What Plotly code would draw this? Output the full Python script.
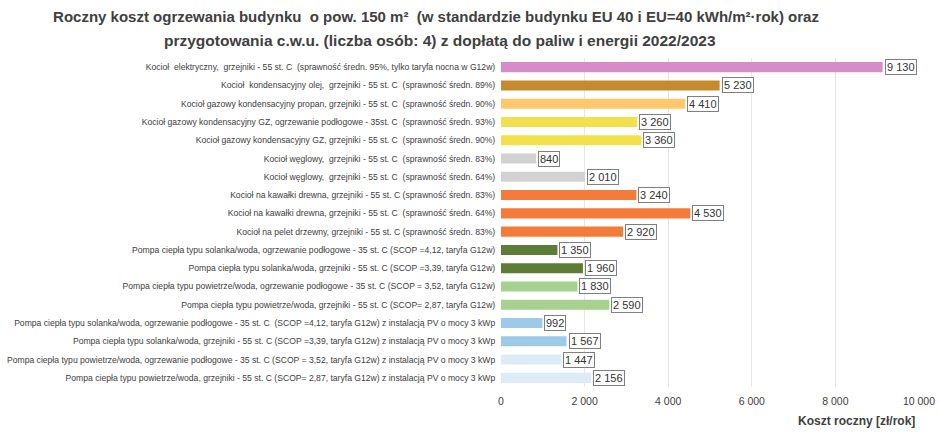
import plotly.graph_objects as go

categories = [
    "Kocioł  elektryczny,  grzejniki - 55 st. C  (sprawność średn. 95%, tylko taryfa nocna w G12w)",
    "Kocioł  kondensacyjny olej,  grzejniki - 55 st. C  (sprawność średn. 89%)",
    "Kocioł gazowy kondensacyjny propan, grzejniki - 55 st. C  (sprawność średn. 90%)",
    "Kocioł gazowy kondensacyjny GZ, ogrzewanie podłogowe - 35st. C  (sprawność średn. 93%)",
    "Kocioł gazowy kondensacyjny GZ, grzejniki - 55 st. C  (sprawność średn. 90%)",
    "Kocioł węglowy,  grzejniki - 55 st. C  (sprawność średn. 83%)",
    "Kocioł węglowy,  grzejniki - 55 st. C  (sprawność średn. 64%)",
    "Kocioł na kawałki drewna, grzejniki - 55 st. C (sprawność średn. 83%)",
    "Kocioł na kawałki drewna, grzejniki - 55 st. C  (sprawność średn. 64%)",
    "Kocioł na pelet drzewny, grzejniki - 55 st. C (sprawność średn. 83%)",
    "Pompa ciepła typu solanka/woda, ogrzewanie podłogowe - 35 st. C (SCOP =4,12, taryfa G12w)",
    "Pompa ciepła typu solanka/woda, grzejniki - 55 st. C (SCOP =3,39, taryfa G12w)",
    "Pompa ciepła typu powietrze/woda, ogrzewanie podłogowe - 35 st. C (SCOP = 3,52, taryfa G12w)",
    "Pompa ciepła typu powietrze/woda, grzejniki - 55 st. C (SCOP= 2,87, taryfa G12w)",
    "Pompa ciepła typu solanka/woda, ogrzewanie podłogowe - 35 st. C  (SCOP =4,12, taryfa G12w) z instalacją PV o mocy 3 kWp",
    "Pompa ciepła typu solanka/woda, grzejniki - 55 st. C (SCOP =3,39, taryfa G12w) z instalacją PV o mocy 3 kWp",
    "Pompa ciepła typu powietrze/woda, ogrzewanie podłogowe - 35 st. C (SCOP = 3,52, taryfa G12w) z instalacją PV o mocy 3 kWp",
    "Pompa ciepła typu powietrze/woda, grzejniki - 55 st. C (SCOP= 2,87, taryfa G12w) z instalacją PV o mocy 3 kWp",
]
values = [9130, 5230, 4410, 3260, 3360, 840, 2010, 3240, 4530, 2920,
          1350, 1960, 1830, 2590, 992, 1567, 1447, 2156]
colors = ["#D68CC9", "#C58A2E", "#FFC86E", "#F2E14C", "#F2E14C", "#D2D2D2", "#D2D2D2",
          "#F47B3A", "#F47B3A", "#F47B3A", "#5C7D36", "#5C7D36", "#A6D18E", "#A6D18E",
          "#9DCAE8", "#9DCAE8", "#DDEBF7", "#DDEBF7"]
tick_vals = [0, 2000, 4000, 6000, 8000, 10000]
tick_text = ["0", "2 000", "4 000", "6 000", "8 000", "10 000"]
title_line1 = "Roczny koszt ogrzewania budynku  o pow. 150 m²  (w standardzie budynku EU 40 i EU=40 kWh/m²·rok) oraz"
title_line2 = "przygotowania c.w.u. (liczba osób: 4) z dopłatą do paliw i energii 2022/2023"
axis_title = "Koszt roczny [zł/rok]"

FONT = "Liberation Sans"
W, H = 940, 432
ML, MR, MT, MB = 501, 21, 58, 45
plot_w = W - ML - MR
plot_h = H - MT - MB

def fmt(v):
    return f"{v:,}".replace(",", " ")

fig = go.Figure(go.Bar(
    y=categories, x=values, orientation="h",
    marker=dict(color=colors, line=dict(width=0)),
    width=0.55,
))

for c, v in zip(categories, values):
    fig.add_annotation(
        x=v, y=c, xref="x", yref="y", text=fmt(v), showarrow=False,
        xanchor="left", xshift=2,
        font=dict(family=FONT, size=11, color="#333333"),
        bordercolor="#7F7F7F", borderwidth=1, borderpad=1, bgcolor="white",
    )

# axis title, right-aligned below the tick labels
fig.add_annotation(
    x=1, y=-0.103, xref="paper", yref="paper", xanchor="right", yanchor="middle",
    xshift=-2, text=axis_title, showarrow=False,
    font=dict(family=FONT, size=12, color="#404040", weight="bold"),
)
# second title line
fig.add_annotation(
    x=(440 - ML) / plot_w, y=1 + (MT - 40) / plot_h,
    xref="paper", yref="paper", xanchor="center", yanchor="middle",
    text=title_line2, showarrow=False,
    font=dict(family=FONT, size=15.5, color="#404040", weight="bold"),
)

fig.update_layout(
    width=W, height=H,
    margin=dict(l=ML, r=MR, t=MT, b=MB),
    paper_bgcolor="white", plot_bgcolor="white",
    showlegend=False,
    title=dict(
        text=title_line1,
        x=436 / W, xanchor="center", yref="container", y=1 - 17 / H, yanchor="middle",
        font=dict(family=FONT, size=15, color="#404040", weight="bold"),
    ),
    font=dict(family=FONT, color="#404040"),
)
fig.update_xaxes(
    range=[0, 10000], tickvals=tick_vals, ticktext=tick_text,
    showgrid=True, gridcolor="#E6E6E6", gridwidth=1, zeroline=False,
    tickfont=dict(family=FONT, size=10.5, color="#404040"),
    ticklabelstandoff=6,
    automargin=False, fixedrange=True,
)
fig.update_yaxes(
    autorange="reversed", showgrid=False, automargin=False,
    tickfont=dict(family=FONT, size=8.6, color="#404040"),
    ticksuffix="  ",
)

fig.write_html(
    "out.html",
    config={"displayModeBar": False},
    post_script="document.body.style.margin='0';document.body.style.overflow='hidden';",
)
